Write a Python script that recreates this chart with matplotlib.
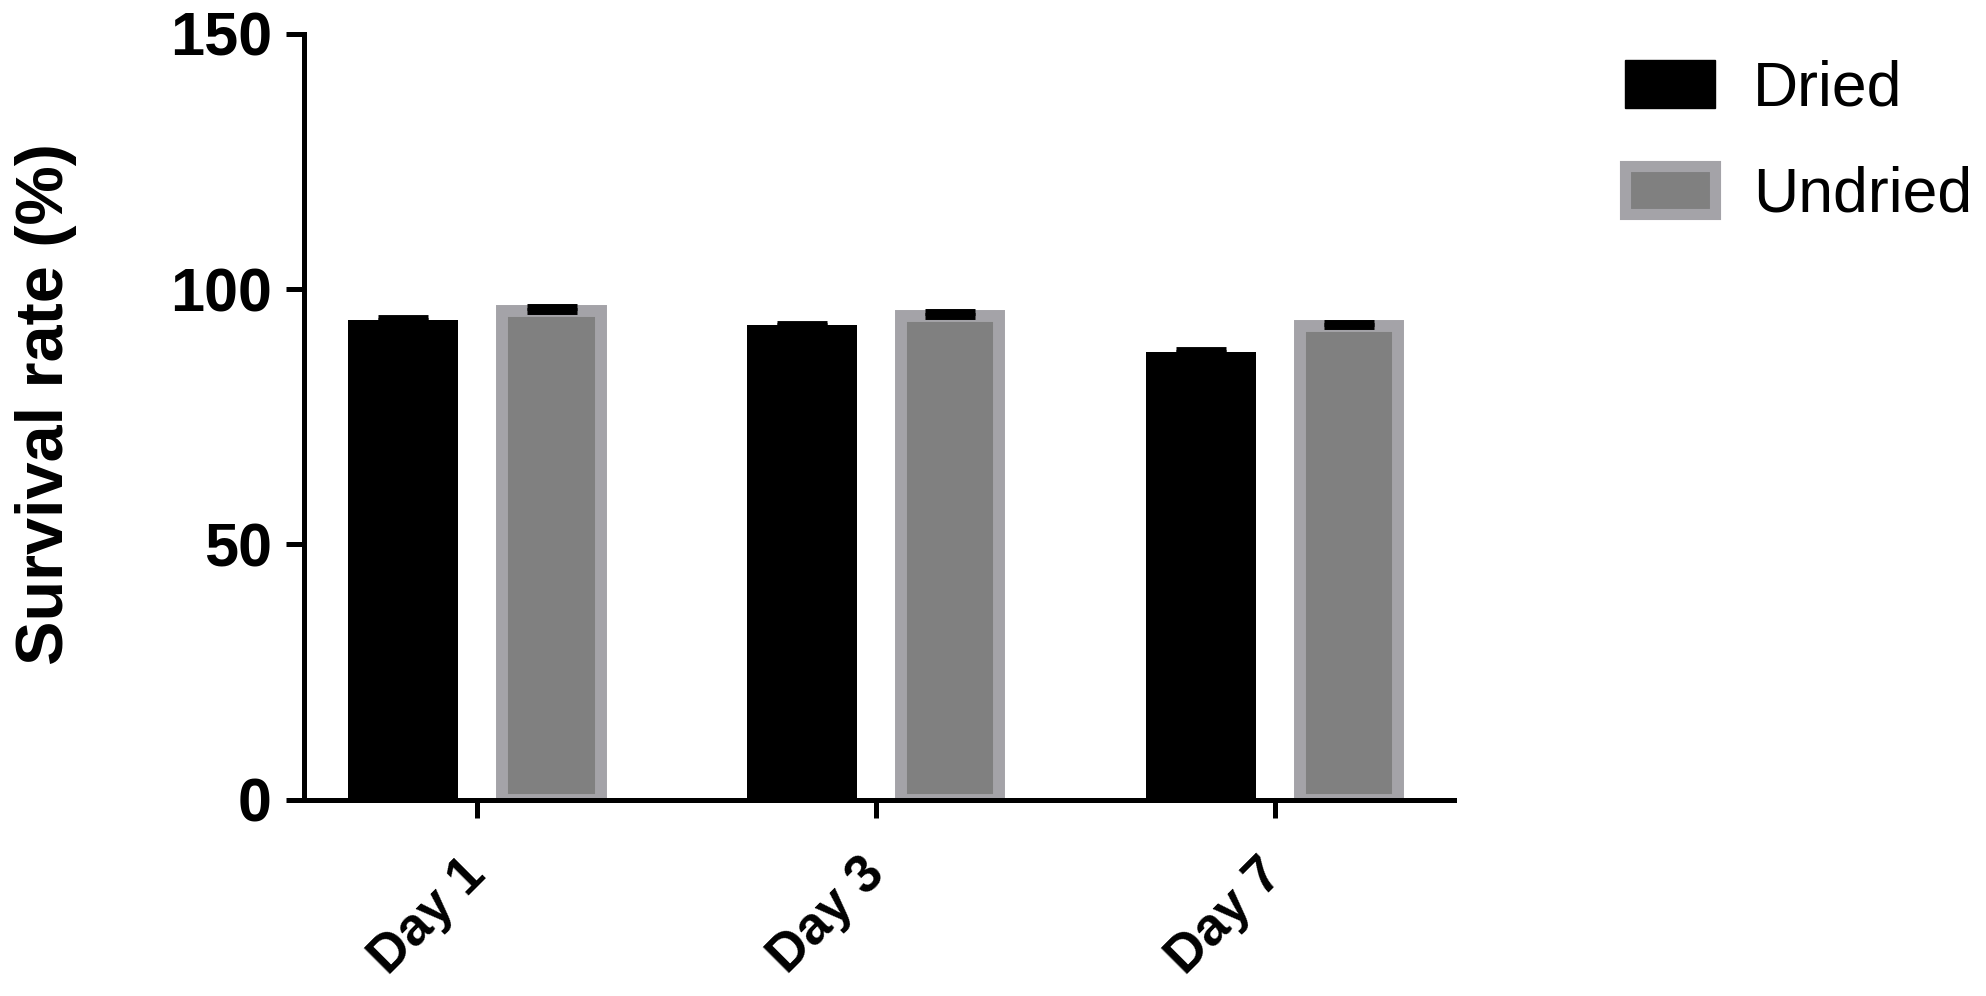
import numpy as np
import matplotlib
matplotlib.use("Agg")
import matplotlib.pyplot as plt
from matplotlib.patches import Patch

plt.rcParams['font.family'] = ['Liberation Sans', 'DejaVu Sans']

days = ['Day 1', 'Day 3', 'Day 7']
dried = [94.0, 93.0, 87.7]
dried_err = [0.5, 0.4, 0.6]
undried = [95.8, 94.8, 92.8]
undried_err = [0.8, 0.8, 0.6]

fig = plt.figure(figsize=(19.86, 9.96), dpi=100)
ax = fig.add_axes([0.153, 0.197, 0.579, 0.769])

x = np.arange(len(days))
off = 0.186

ax.bar(x - off, dried, width=0.276, color='black', zorder=2)
ax.errorbar(x - off, dried, yerr=[np.zeros(3), dried_err], fmt='none',
            ecolor='black', elinewidth=3, capsize=18, capthick=3.5, zorder=3)

ax.bar(x + off, undried, width=0.246, color='#808080', edgecolor='#a4a3a8',
       linewidth=8.6, zorder=2)
ax.errorbar(x + off, undried, yerr=[np.zeros(3), undried_err], fmt='none',
            ecolor='black', elinewidth=3, capsize=18, capthick=5, zorder=3)

ax.set_xlim(-0.435, 2.448)
ax.set_ylim(0, 150)
ax.set_yticks([0, 50, 100, 150])
ax.set_xticks(x)
ax.set_xticklabels(days, rotation=45, ha='right', va='center',
                   rotation_mode='anchor', fontsize=38, fontweight='bold')
for lab in ax.get_yticklabels():
    lab.set_fontsize(44)
    lab.set_fontweight('bold')

for s in ['top', 'right']:
    ax.spines[s].set_visible(False)
for s in ['left', 'bottom']:
    ax.spines[s].set_linewidth(3.6)
ax.tick_params(axis='both', width=3.6, length=13)
ax.tick_params(axis='y', pad=10)
ax.tick_params(axis='x', pad=35)

ax.set_ylabel('Survival rate (%)', fontsize=48, fontweight='bold')
ax.yaxis.set_label_coords(-0.197, 0.517)

handles = [Patch(facecolor='black', edgecolor='black', label='Dried'),
           Patch(facecolor='#808080', edgecolor='#a4a3a8', linewidth=8, label='Undried')]
fig.legend(handles=handles, loc='upper left', bbox_to_anchor=(0.818, 0.94),
           frameon=False, fontsize=45, handlelength=1.45, handleheight=0.82,
           handletextpad=0.6, labelspacing=0.75, borderpad=0, borderaxespad=0)

fig.savefig('out.png', dpi=100)
